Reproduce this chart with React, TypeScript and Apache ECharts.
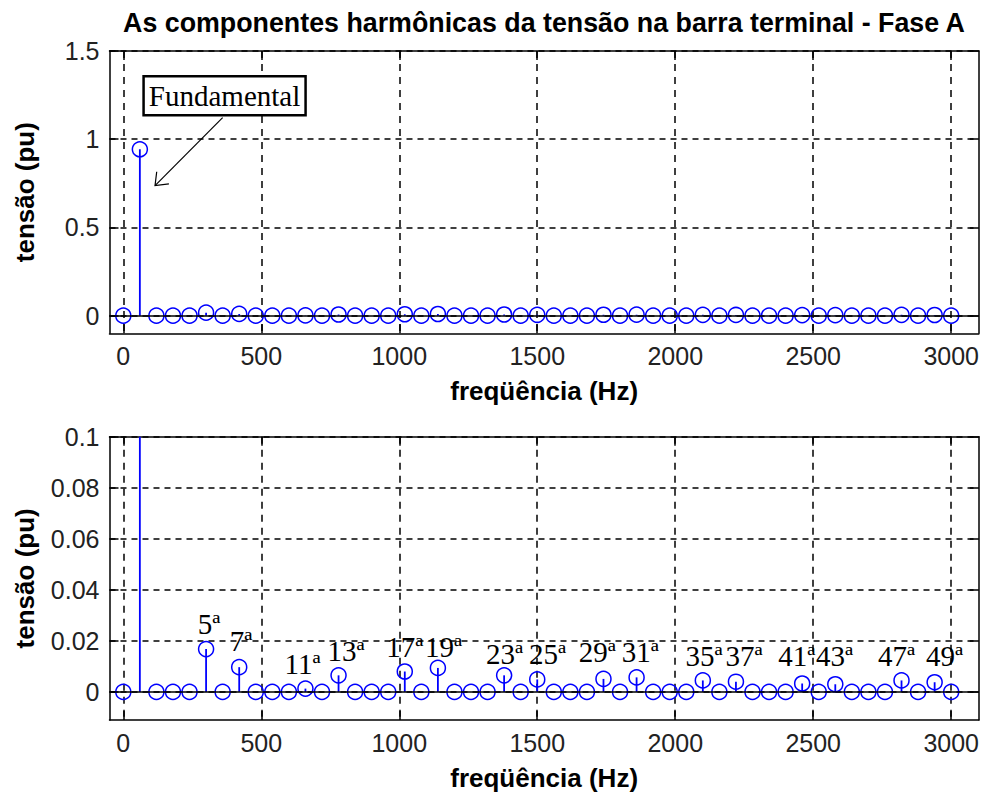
import React, { useEffect, useRef } from 'react';
import * as echarts from 'echarts';

// ---------- data ----------
const FREQ_HZ = [
  0, 60, 120, 180, 240, 300, 360, 420, 480, 540, 600, 660, 720, 780, 840, 900, 960,
  1020, 1080, 1140, 1200, 1260, 1320, 1380, 1440, 1500, 1560, 1620, 1680, 1740, 1800,
  1860, 1920, 1980, 2040, 2100, 2160, 2220, 2280, 2340, 2400, 2460, 2520, 2580, 2640,
  2700, 2760, 2820, 2880, 2940, 3000,
];
const TENSAO_PU = [
  0, 0.943, 0, 0, 0, 0.0168, 0, 0.0097, 0, 0, 0, 0.0013, 0, 0.0065, 0, 0, 0,
  0.008, 0, 0.0094, 0, 0, 0, 0.0065, 0, 0.0049, 0, 0, 0, 0.0051, 0,
  0.0057, 0, 0, 0, 0.0045, 0, 0.004, 0, 0, 0, 0.0033, 0, 0.003, 0,
  0, 0, 0.0045, 0, 0.0038, 0,
];
const X_TICKS = [0, 500, 1000, 1500, 2000, 2500, 3000];
const Y_TICKS_TOP = [0, 0.5, 1, 1.5];
const Y_TICKS_BOTTOM = [0, 0.02, 0.04, 0.06, 0.08, 0.1];

const HARM_LABELS = ['5ª', '7ª', '11ª', '13ª', '17ª', '19ª', '23ª', '25ª', '29ª', '31ª', '35ª', '37ª', '41ª', '43ª', '47ª', '49ª'];
const HARM_LABEL_X = [270, 386, 584, 740, 953, 1093, 1314, 1470, 1650, 1806, 2037, 2182, 2373, 2510, 2735, 2909];
const HARM_LABEL_Y = [0.0266, 0.02, 0.011, 0.0161, 0.0177, 0.0177, 0.0149, 0.0149, 0.0157, 0.0157, 0.0141, 0.0141, 0.0141, 0.0141, 0.0141, 0.0141];

const FUND_TEXT = 'Fundamental';
const FUND_BOX_CENTER = [367, 1.247];
const FUND_ARROW = [360, 1.122, 115, 0.737];

const TITLE = 'As componentes harmônicas da tensão na barra terminal - Fase A';
const X_NAME = 'freqüência (Hz)';
const Y_NAME = 'tensão (pu)';

const X_MIN = -50;
const X_MAX = 3100;

// ---------- styling ----------
const SANS = '"Liberation Sans", Arial, sans-serif';
const SERIF = '"Liberation Serif", "Times New Roman", serif';
const BLUE = '#0000ff';

const GRIDS = [
  { left: 109.5, top: 51, width: 871, height: 282.3 },
  { left: 109.5, top: 436.7, width: 871, height: 285 },
];

const plainNumber = (v: number) => String(Math.round(v * 1000) / 1000);

function xAxes(gridIndex: number) {
  const line = { show: true, onZero: false, lineStyle: { color: '#000', width: 1.5 } };
  const tick = { show: true, inside: true, length: 9, customValues: X_TICKS, lineStyle: { color: '#000', width: 1.5 } };
  return [
    {
      type: 'value', gridIndex, min: X_MIN, max: X_MAX, position: 'bottom',
      axisLine: line, axisTick: tick,
      axisLabel: { show: true, customValues: X_TICKS, formatter: plainNumber, margin: 10, color: '#222', fontSize: 25, fontFamily: SANS },
      splitLine: { show: true, lineStyle: { color: '#000', width: 1.5, type: [7, 6] } },
      name: X_NAME, nameLocation: 'middle', nameGap: 45,
      nameTextStyle: { color: '#000', fontSize: 26, fontWeight: 'bold', fontFamily: SANS },
    },
    {
      type: 'value', gridIndex, min: X_MIN, max: X_MAX, position: 'top',
      axisLine: line, axisTick: tick, axisLabel: { show: false }, splitLine: { show: false },
    },
  ];
}

function yAxes(gridIndex: number, min: number, max: number, ticks: number[]) {
  const line = { show: true, onZero: false, lineStyle: { color: '#000', width: 1.5 } };
  const tick = { show: true, inside: true, length: 9, customValues: ticks, lineStyle: { color: '#000', width: 1.5 } };
  return [
    {
      type: 'value', gridIndex, min, max, position: 'left',
      axisLine: line, axisTick: tick,
      axisLabel: { show: true, customValues: ticks, formatter: plainNumber, margin: 10, color: '#222', fontSize: 25, fontFamily: SANS },
      splitLine: { show: true, lineStyle: { color: '#000', width: 1.5, type: [6, 5] } },
      name: Y_NAME, nameLocation: 'middle', nameGap: 72,
      nameTextStyle: { color: '#000', fontSize: 26, fontWeight: 'bold', fontFamily: SANS },
    },
    {
      type: 'value', gridIndex, min, max, position: 'right',
      axisLine: line, axisTick: tick, axisLabel: { show: false }, splitLine: { show: false },
    },
  ];
}

const renderStem = (_params: any, api: any) => {
  const x = api.value(0);
  const y = api.value(1);
  const base = api.coord([x, 0]);
  const tip = api.coord([x, y]);
  return {
    type: 'group',
    children: [
      { type: 'line', shape: { x1: base[0], y1: base[1], x2: tip[0], y2: tip[1] }, style: { stroke: BLUE, lineWidth: 1.8 } },
      { type: 'circle', shape: { cx: tip[0], cy: tip[1], r: 7.5 }, style: { fill: 'none', stroke: BLUE, lineWidth: 1.5 } },
    ],
  };
};

const renderHarmLabel = (params: any, api: any) => {
  const p = api.coord([api.value(0), api.value(1)]);
  return {
    type: 'text',
    x: p[0],
    y: p[1],
    style: { text: HARM_LABELS[params.dataIndex], fill: '#000', font: `29px ${SERIF}`, align: 'left', verticalAlign: 'middle' },
  };
};

const renderFundamental = (_params: any, api: any) => {
  const c = api.coord([api.value(0), api.value(1)]);
  const a0 = api.coord([api.value(2), api.value(3)]);
  const a1 = api.coord([api.value(4), api.value(5)]);
  const ang = Math.atan2(a0[1] - a1[1], a0[0] - a1[0]);
  const hl = 14;
  const spread = (38 * Math.PI) / 180;
  const h1 = [a1[0] + hl * Math.cos(ang + spread), a1[1] + hl * Math.sin(ang + spread)];
  const h2 = [a1[0] + hl * Math.cos(ang - spread), a1[1] + hl * Math.sin(ang - spread)];
  const bw = 162;
  const bh = 39;
  return {
    type: 'group',
    children: [
      { type: 'line', shape: { x1: a0[0], y1: a0[1], x2: a1[0], y2: a1[1] }, style: { stroke: '#000', lineWidth: 1.2 } },
      { type: 'polyline', shape: { points: [h1, a1, h2] }, style: { stroke: '#000', lineWidth: 1.2, fill: 'none' } },
      { type: 'rect', shape: { x: c[0] - bw / 2, y: c[1] - bh / 2, width: bw, height: bh }, style: { fill: '#fff', stroke: '#000', lineWidth: 2.5 } },
      { type: 'text', x: c[0], y: c[1], style: { text: FUND_TEXT, fill: '#000', font: `29px ${SERIF}`, align: 'center', verticalAlign: 'middle' } },
    ],
  };
};

function stemSeries(axisIndex: number) {
  return {
    type: 'custom',
    xAxisIndex: axisIndex,
    yAxisIndex: axisIndex,
    clip: true,
    renderItem: renderStem,
    data: FREQ_HZ.map((f, i) => [f, TENSAO_PU[i]]),
    markLine: {
      silent: true,
      symbol: 'none',
      label: { show: false },
      lineStyle: { color: '#000', width: 1.5, type: 'solid' },
      data: [{ yAxis: 0 }],
    },
    z: 3,
  };
}

export default function App() {
  const ref = useRef<HTMLDivElement>(null);
  useEffect(() => {
    document.body.style.margin = '0';
    const chart = echarts.init(ref.current!, null, { renderer: 'svg' });
    chart.setOption({
      animation: false,
      backgroundColor: '#ffffff',
      textStyle: { fontFamily: SANS },
      grid: GRIDS.map((g) => ({ ...g, containLabel: false })),
      xAxis: [...xAxes(0), ...xAxes(1)],
      yAxis: [...yAxes(0, -0.1, 1.5, Y_TICKS_TOP), ...yAxes(1, -0.011, 0.1, Y_TICKS_BOTTOM)],
      graphic: [
        {
          type: 'text', x: 544, y: 23,
          style: { text: TITLE, fill: '#000', font: `bold 26.8px ${SANS}`, align: 'center', verticalAlign: 'middle' },
        },
      ],
      series: [
        stemSeries(0),
        stemSeries(2),
        {
          type: 'custom', xAxisIndex: 2, yAxisIndex: 2, clip: false, z: 5,
          renderItem: renderHarmLabel,
          data: HARM_LABEL_X.map((x, i) => [x, HARM_LABEL_Y[i]]),
        },
        {
          type: 'custom', xAxisIndex: 0, yAxisIndex: 0, clip: false, z: 5,
          renderItem: renderFundamental,
          data: [[FUND_BOX_CENTER[0], FUND_BOX_CENTER[1], ...FUND_ARROW]],
        },
      ],
    });
    return () => chart.dispose();
  }, []);
  return <div ref={ref} style={{ position: 'fixed', left: 0, top: 0, width: 982, height: 792, background: '#fff' }} />;
}
